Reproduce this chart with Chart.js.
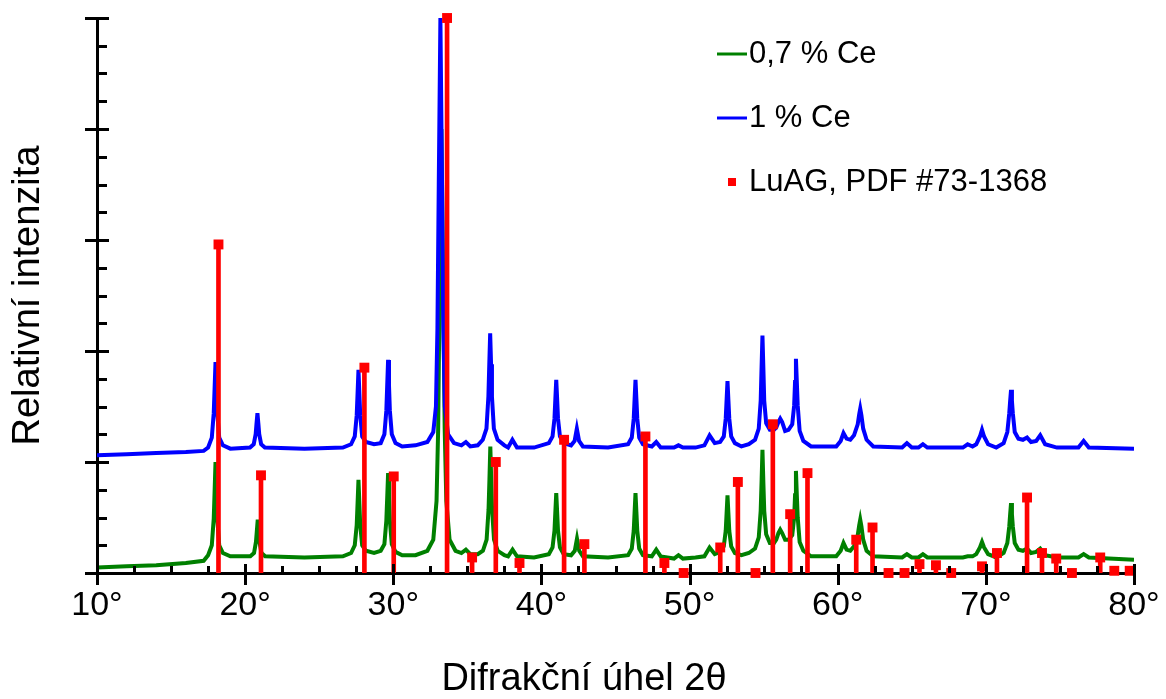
<!DOCTYPE html>
<html>
<head>
<meta charset="utf-8">
<script src="https://cdn.jsdelivr.net/npm/chart.js@4.4.0/dist/chart.umd.min.js"></script>
<style>
  body { margin: 0; background: #fff; }
  #wrap { width: 1166px; height: 699px; }
</style>
</head>
<body>
<div id="wrap"><canvas id="xrdChart" width="1166" height="699"></canvas></div>
<script>
// XRD patterns of LuAG:Ce
// [2theta in degrees, relative intensity]

const ce07Points = [
  [10, 0.05], [12, 0.06], [14, 0.07], [16, 0.09], [17.2, 0.11],
  [17.5, 0.16], [17.75, 0.25], [17.88, 0.49], [17.94, 0.74], [18.0, 1.0], [18.06, 0.74], [18.12, 0.49], [18.25, 0.25], [18.5, 0.18], [19.0, 0.15],
  [20.35, 0.15], [20.6, 0.18], [20.73, 0.28], [20.79, 0.38], [20.85, 0.48], [20.91, 0.38], [20.97, 0.28], [21.1, 0.18], [21.35, 0.15],
  [24, 0.14], [26.6, 0.15],
  [27.15, 0.18], [27.4, 0.25], [27.53, 0.43], [27.59, 0.63], [27.65, 0.84], [27.71, 0.63], [27.77, 0.43], [27.9, 0.25], [28.15, 0.2], [28.7, 0.18],
  [29.15, 0.2], [29.4, 0.26], [29.53, 0.47], [29.59, 0.68], [29.65, 0.9], [29.71, 0.68], [29.77, 0.47], [29.9, 0.26], [30.15, 0.19], [30.6, 0.16],
  [31.5, 0.16], [32.3, 0.2], [32.7, 0.3], [32.92, 0.65], [33.03, 1.3], [33.13, 2.6], [33.25, 4.0], [33.37, 2.6], [33.47, 1.3], [33.58, 0.65], [33.8, 0.3], [34.2, 0.2],
  [34.6, 0.18], [34.9, 0.21], [35.2, 0.17], [35.7, 0.17],
  [36.05, 0.2], [36.3, 0.3], [36.43, 0.57], [36.49, 0.84], [36.55, 1.14], [36.61, 0.84], [36.67, 0.57], [36.8, 0.3], [37.05, 0.2], [37.5, 0.16],
  [37.75, 0.15], [38.05, 0.21], [38.35, 0.15], [39.5, 0.14],
  [40.5, 0.17], [40.75, 0.23], [40.88, 0.38], [40.94, 0.55], [41.0, 0.72], [41.06, 0.55], [41.12, 0.38], [41.25, 0.23], [41.5, 0.17],
  [42.0, 0.16], [42.25, 0.2], [42.4, 0.31], [42.55, 0.2], [42.8, 0.15], [44.5, 0.14],
  [45.85, 0.16], [46.1, 0.22], [46.23, 0.38], [46.29, 0.55], [46.35, 0.72], [46.41, 0.55], [46.47, 0.38], [46.6, 0.22], [46.85, 0.16],
  [47.45, 0.15], [47.75, 0.21], [48.05, 0.15], [48.95, 0.13], [49.25, 0.16], [49.55, 0.13], [50.4, 0.14],
  [51.0, 0.15], [51.35, 0.23], [51.7, 0.17],
  [52.06, 0.19], [52.31, 0.24], [52.44, 0.38], [52.5, 0.54], [52.56, 0.7], [52.62, 0.54], [52.68, 0.38], [52.81, 0.24], [53.06, 0.18], [53.5, 0.16],
  [54.0, 0.18], [54.42, 0.22], [54.67, 0.32], [54.8, 0.56], [54.86, 0.82], [54.92, 1.11], [54.98, 0.82], [55.04, 0.56], [55.17, 0.35], [55.42, 0.27], [55.7, 0.27],
  [55.85, 0.3], [56.0, 0.36], [56.12, 0.39], [56.25, 0.36], [56.45, 0.3],
  [56.68, 0.3], [56.93, 0.34], [57.06, 0.5], [57.12, 0.7], [57.18, 0.92], [57.24, 0.7], [57.3, 0.5], [57.43, 0.28], [57.68, 0.2], [58.2, 0.15],
  [59.9, 0.15], [60.2, 0.2], [60.39, 0.27], [60.6, 0.21], [60.85, 0.2],
  [61.1, 0.24], [61.35, 0.34], [61.45, 0.43], [61.52, 0.48], [61.6, 0.42], [61.72, 0.3], [61.95, 0.2], [62.4, 0.15],
  [64.35, 0.14], [64.67, 0.17], [65.0, 0.14], [65.45, 0.14], [65.75, 0.17], [66.05, 0.14],
  [68.45, 0.14], [68.77, 0.15], [69.1, 0.15],
  [69.35, 0.17], [69.6, 0.23], [69.74, 0.28], [69.88, 0.23], [70.15, 0.17], [70.7, 0.14],
  [71.2, 0.18], [71.45, 0.27], [71.58, 0.42], [71.64, 0.53], [71.7, 0.63], [71.76, 0.53], [71.82, 0.42], [71.95, 0.27], [72.2, 0.21],
  [72.5, 0.2], [72.78, 0.22], [73.05, 0.18], [73.4, 0.19], [73.67, 0.22], [74.0, 0.16], [74.8, 0.14],
  [76.25, 0.14], [76.6, 0.17], [76.95, 0.14], [80, 0.12]
];

const ce10Points = [
  [10, 1.06], [12, 1.07], [14, 1.08], [16, 1.09], [17.2, 1.1],
  [17.5, 1.13], [17.75, 1.22], [17.88, 1.44], [17.94, 1.67], [18.0, 1.9], [18.06, 1.67], [18.12, 1.44], [18.25, 1.22], [18.5, 1.15], [19.0, 1.12],
  [20.33, 1.13], [20.58, 1.16], [20.71, 1.25], [20.77, 1.35], [20.83, 1.44], [20.89, 1.35], [20.95, 1.25], [21.08, 1.16], [21.33, 1.13],
  [24, 1.12], [26.6, 1.13],
  [27.15, 1.16], [27.4, 1.23], [27.53, 1.42], [27.59, 1.62], [27.65, 1.83], [27.71, 1.62], [27.77, 1.42], [27.9, 1.23], [28.15, 1.18], [28.7, 1.16],
  [29.15, 1.17], [29.4, 1.25], [29.53, 1.46], [29.59, 1.69], [29.65, 1.92], [29.71, 1.69], [29.77, 1.46], [29.9, 1.25], [30.15, 1.17], [30.6, 1.14],
  [31.5, 1.15], [32.3, 1.18], [32.7, 1.27], [32.88, 1.5], [32.98, 2.2], [33.07, 3.5], [33.18, 5.0], [33.29, 3.5], [33.38, 2.2], [33.48, 1.5], [33.7, 1.25], [34.1, 1.17],
  [34.6, 1.15], [34.9, 1.18], [35.2, 1.14], [35.7, 1.15],
  [36.04, 1.2], [36.29, 1.3], [36.42, 1.59], [36.48, 1.88], [36.54, 2.16], [36.6, 1.88], [36.66, 1.59], [36.79, 1.3], [37.04, 1.2], [37.5, 1.15],
  [37.75, 1.13], [38.04, 1.2], [38.35, 1.13], [39.5, 1.13],
  [40.5, 1.17], [40.75, 1.23], [40.88, 1.39], [40.94, 1.57], [41.0, 1.74], [41.06, 1.57], [41.12, 1.39], [41.25, 1.23], [41.5, 1.17],
  [42.0, 1.15], [42.24, 1.19], [42.39, 1.3], [42.54, 1.19], [42.8, 1.14], [44.5, 1.13],
  [45.85, 1.16], [46.1, 1.22], [46.23, 1.39], [46.29, 1.57], [46.35, 1.74], [46.41, 1.57], [46.47, 1.39], [46.6, 1.22], [46.85, 1.16],
  [47.45, 1.14], [47.75, 1.18], [48.05, 1.13], [48.95, 1.13], [49.25, 1.15], [49.55, 1.13], [50.4, 1.13],
  [51.0, 1.15], [51.35, 1.24], [51.7, 1.17],
  [52.06, 1.18], [52.31, 1.23], [52.44, 1.39], [52.5, 1.56], [52.56, 1.73], [52.62, 1.56], [52.68, 1.39], [52.81, 1.23], [53.06, 1.17], [53.5, 1.14],
  [54.0, 1.16], [54.42, 1.2], [54.67, 1.3], [54.8, 1.55], [54.86, 1.85], [54.92, 2.14], [54.98, 1.85], [55.04, 1.55], [55.17, 1.35], [55.42, 1.29], [55.7, 1.29],
  [55.85, 1.31], [56.0, 1.36], [56.12, 1.39], [56.25, 1.36], [56.45, 1.28],
  [56.68, 1.29], [56.93, 1.34], [57.06, 1.51], [57.12, 1.72], [57.18, 1.93], [57.24, 1.72], [57.3, 1.51], [57.43, 1.28], [57.68, 1.19], [58.2, 1.14],
  [59.9, 1.14], [60.2, 1.19], [60.39, 1.26], [60.6, 1.21], [60.85, 1.2],
  [61.1, 1.24], [61.35, 1.34], [61.45, 1.43], [61.52, 1.48], [61.6, 1.42], [61.72, 1.3], [61.95, 1.2], [62.4, 1.14],
  [64.35, 1.13], [64.67, 1.17], [65.0, 1.13], [65.45, 1.13], [65.75, 1.16], [66.05, 1.13],
  [68.45, 1.13], [68.77, 1.16], [69.1, 1.14],
  [69.35, 1.16], [69.6, 1.23], [69.74, 1.29], [69.88, 1.23], [70.15, 1.16], [70.7, 1.13],
  [71.2, 1.17], [71.45, 1.27], [71.58, 1.44], [71.64, 1.55], [71.7, 1.65], [71.76, 1.55], [71.82, 1.44], [71.95, 1.27], [72.2, 1.21],
  [72.5, 1.2], [72.78, 1.22], [73.05, 1.18], [73.4, 1.19], [73.67, 1.24], [74.0, 1.16], [74.8, 1.13],
  [76.25, 1.13], [76.6, 1.19], [76.95, 1.13], [80, 1.12]
];

// LuAG reference lines, PDF #73-1368
const pdfAngles = [18.2, 21.07, 28.05, 30.03, 33.63, 35.32, 36.92, 38.52, 41.53, 42.9,
  47.02, 48.3, 49.6, 52.07, 53.26, 54.45, 55.62, 56.79, 57.96, 61.25,
  62.35, 63.43, 64.51, 65.52, 66.63, 67.66, 69.74, 70.75, 72.78, 73.79,
  74.75, 75.81, 77.72, 78.67, 79.71];
const pdfIntensities = [2.96, 0.88, 1.85, 0.87, 5.0, 0.14, 1.0, 0.09, 1.2, 0.26,
  1.23, 0.09, 0.0, 0.23, 0.82, 0.0, 1.34, 0.53, 0.9, 0.3,
  0.41, 0.0, 0.0, 0.08, 0.07, 0.0, 0.06, 0.18, 0.68, 0.18,
  0.13, 0.0, 0.14, 0.02, 0.02];

const seriesLabels = ['0,7 % Ce', '1 % Ce', 'LuAG, PDF #73-1368'];
const xTitle = 'Difrakční úhel 2θ';
const yTitle = 'Relativní intenzita';

const GREEN = '#008000';
const BLUE = '#0000ff';
const RED = '#ff0000';
const FONT = "'Liberation Sans', Arial, sans-serif";

const toXY = pts => pts.map(p => ({ x: p[0], y: p[1] }));
const pdfData = pdfAngles.map((a, i) => ({ x: a, y: pdfIntensities[i] }));

// tick marks crossing the axes, x title and legend
const decorations = {
  id: 'decorations',
  afterDraw(chart) {
    const { ctx, scales: { x, y }, chartArea } = chart;
    ctx.save();
    ctx.strokeStyle = '#000';
    ctx.lineWidth = 3;
    ctx.beginPath();
    y.ticks.forEach(t => {
      const py = Math.round(y.getPixelForValue(t.value)) + 0.5;
      const major = Math.abs(t.value - Math.round(t.value)) < 1e-6;
      ctx.moveTo(chartArea.left - (major ? 12 : 0), py);
      ctx.lineTo(chartArea.left + (major ? 12 : 10), py);
    });
    x.ticks.forEach(t => {
      const px = Math.round(x.getPixelForValue(t.value)) + 0.5;
      const major = t.value % 10 === 0;
      ctx.moveTo(px, chartArea.bottom + (major ? 12 : 0));
      ctx.lineTo(px, chartArea.bottom - (major ? 9 : 7));
    });
    ctx.stroke();

    // x axis title
    ctx.fillStyle = '#000';
    ctx.font = '38px ' + FONT;
    ctx.textAlign = 'center';
    ctx.textBaseline = 'middle';
    ctx.fillText(xTitle, 584, 680);

    // legend
    ctx.font = '31px ' + FONT;
    ctx.textAlign = 'left';
    const rows = [54, 118, 182];
    const colors = [GREEN, BLUE, RED];
    seriesLabels.forEach((label, i) => {
      ctx.fillStyle = '#000';
      ctx.fillText(label, 749, rows[i]);
      if (i < 2) {
        ctx.strokeStyle = colors[i];
        ctx.lineWidth = 3;
        ctx.beginPath();
        ctx.moveTo(717, rows[i]);
        ctx.lineTo(747, rows[i]);
        ctx.stroke();
      } else {
        ctx.fillStyle = RED;
        ctx.fillRect(728, rows[i] - 4, 8, 8);
      }
    });
    ctx.restore();
  }
};

new Chart(document.getElementById('xrdChart'), {
  type: 'line',
  data: {
    datasets: [
      {
        type: 'bar',
        label: seriesLabels[2],
        data: pdfData,
        backgroundColor: RED,
        barThickness: 4,
        order: 0
      },
      {
        type: 'scatter',
        label: seriesLabels[2],
        data: pdfData,
        showLine: false,
        pointStyle: 'rect',
        pointRadius: 7,
        pointBorderWidth: 0,
        backgroundColor: RED,
        borderColor: RED,
        clip: false,
        order: 0
      },
      {
        label: seriesLabels[1],
        data: toXY(ce10Points),
        borderColor: BLUE,
        borderWidth: 4,
        pointRadius: 0,
        tension: 0,
        order: 1
      },
      {
        label: seriesLabels[0],
        data: toXY(ce07Points),
        borderColor: GREEN,
        borderWidth: 4,
        pointRadius: 0,
        tension: 0,
        order: 2
      }
    ]
  },
  options: {
    responsive: false,
    animation: false,
    layout: { padding: { top: 18, right: 32, left: 0, bottom: 0 } },
    plugins: {
      legend: { display: false },
      tooltip: { enabled: false }
    },
    scales: {
      x: {
        type: 'linear',
        position: 'bottom',
        min: 10,
        max: 80,
        offset: false,
        grid: { display: false, drawTicks: false, offset: false },
        border: { display: true, color: '#000', width: 3 },
        ticks: {
          stepSize: 2.5,
          autoSkip: false,
          maxRotation: 0,
          padding: 12,
          color: '#000',
          font: { family: FONT, size: 34 },
          callback: v => (v % 10 === 0 ? v + '°' : '')
        },
        afterFit: s => {
          s.height = 126;
          s.paddingLeft = 0;
          s.paddingRight = 0;
        }
      },
      y: {
        min: 0,
        max: 5,
        grid: { display: false, drawTicks: false },
        border: { display: true, color: '#000', width: 3 },
        ticks: { stepSize: 0.25, display: false },
        title: {
          display: true,
          text: yTitle,
          color: '#000',
          font: { family: FONT, size: 38, lineHeight: 1 },
          padding: { top: 10, bottom: 0 }
        },
        afterFit: s => {
          s.width = 97;
          s.paddingTop = 0;
          s.paddingBottom = 0;
        }
      }
    }
  },
  plugins: [decorations]
});
</script>
</body>
</html>
